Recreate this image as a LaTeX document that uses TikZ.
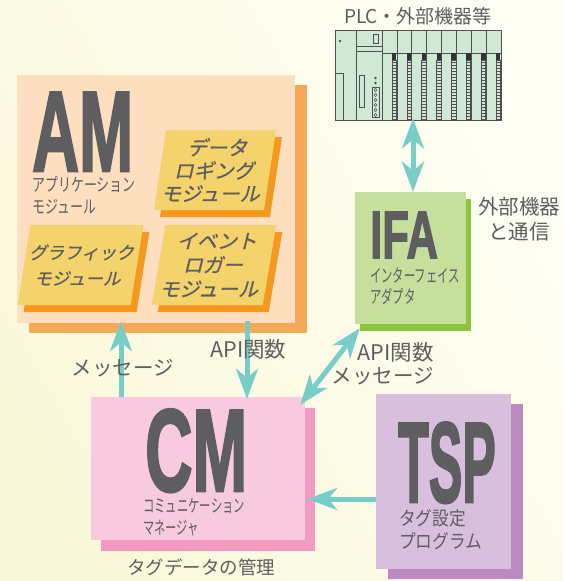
\documentclass[tikz,border=0pt]{standalone}
\usepackage{fontspec}
\usepackage{graphicx}
\usetikzlibrary{arrows.meta,shadows}
\setmainfont{Noto Sans CJK JP}
\newfontfamily\heavyfont[FakeBold=2.5]{Liberation Sans}
\newfontfamily\modulefont[FakeBold=0.8,FakeSlant=0.08]{Noto Sans CJK JP}

\definecolor{inkgray}{HTML}{5E5E60}
\definecolor{bgWarm}{HTML}{FAF8DB}
\definecolor{bgPale}{HTML}{FEFEF4}
\definecolor{amFill}{HTML}{FDDFC0}
\definecolor{amShadow}{HTML}{F6AA57}
\definecolor{modFill}{HTML}{F5D36C}
\definecolor{modShadow}{HTML}{F4981F}
\definecolor{ifaFill}{HTML}{C7DF9D}
\definecolor{ifaShadow}{HTML}{8CC63E}
\definecolor{cmFill}{HTML}{F8CADF}
\definecolor{cmShadow}{HTML}{F29AC2}
\definecolor{tspFill}{HTML}{D9BFDE}
\definecolor{tspShadow}{HTML}{BC8ABE}
\definecolor{linkTeal}{HTML}{79CDC8}
\definecolor{plcGreen}{HTML}{CFE9D5}
\definecolor{plcLine}{HTML}{505050}

% condensed heavy lettering for the block abbreviations
\newcommand\blocktag[3]{\scalebox{#1}[1]{\heavyfont\bfseries\fontsize{#2}{#2}\selectfont #3}}
% narrow caption lines under the abbreviations
\newcommand\narrowline[3]{\scalebox{#1}[1]{\fontsize{#2}{#2}\selectfont #3}}

\begin{document}
\begin{tikzpicture}[x=1pt,y=-1pt,
  txt/.style={inner sep=0pt, text=inkgray},
  panel/.style={inner sep=0pt, draw=none},
  arr/.style={draw=linkTeal, line width=5pt,
    -{Stealth[length=30pt,width=22pt,inset=9pt]}},
  darr/.style={draw=linkTeal, line width=5pt,
    {Stealth[length=30pt,width=22pt,inset=9pt]}-{Stealth[length=30pt,width=22pt,inset=9pt]}},
  modbox/.style={panel, transform shape, fill=modFill, text=inkgray, align=center,
    minimum height=80pt,
    drop shadow={shadow xshift=6pt, shadow yshift=-7pt, fill=modShadow, opacity=1}},
]
\useasboundingbox (0,0) rectangle (563,581);
\shade[left color=bgWarm, right color=bgPale, shading angle=120] (0,0) rectangle (563,581);

% ---- application module
\node[panel, fill=amFill, minimum width=278pt, minimum height=248pt,
  drop shadow={shadow xshift=12pt, shadow yshift=-10pt, fill=amShadow, opacity=1}]
  (am) at (156,199) {};
\node[txt, anchor=base west] (amTag) at (32,171) {\blocktag{0.57}{114}{AM}};
\node[txt, anchor=west] (amSub1) at (32,185) {\narrowline{0.72}{18}{アプリケーション}};
\node[txt, anchor=west] (amSub2) at (32,207) {\narrowline{0.72}{18}{モジュール}};

\begin{scope}[shift={(215,170)}, xslant=0.15]
  \node[modbox, minimum width=110pt, font={\modulefont\fontsize{20}{23}\selectfont}] (dlog) at (0,0)
    {データ\\ロギング\\モジュール};
\end{scope}
\begin{scope}[shift={(80.5,265)}, xslant=0.16]
  \node[modbox, minimum width=113pt, font={\modulefont\fontsize{17.5}{26}\selectfont}] (gmod) at (0,0)
    {グラフィック\\モジュール};
\end{scope}
\begin{scope}[shift={(214,265)}, xslant=0.17]
  \node[modbox, minimum width=111pt, font={\modulefont\fontsize{20}{24}\selectfont}] (elog) at (0,0)
    {イベント\\ロガー\\モジュール};
\end{scope}

% ---- interface adapter
\node[panel, fill=ifaFill, minimum width=111pt, minimum height=132pt,
  drop shadow={shadow xshift=5pt, shadow yshift=-7pt, fill=ifaShadow, opacity=1}]
  (ifa) at (410.5,258) {};
\node[txt, anchor=base west] (ifaTag) at (370,258) {\blocktag{0.65}{67}{IFA}};
\node[txt, anchor=west] (ifaSub1) at (370,276) {\narrowline{0.63}{18}{インターフェイス}};
\node[txt, anchor=west] (ifaSub2) at (370,296) {\narrowline{0.63}{18}{アダプタ}};
\node[txt, align=center, font=\fontsize{20.5}{25}\selectfont] (extNote) at (519,219)
  {外部機器\\と通信};

% ---- communication manager
\node[panel, fill=cmFill, minimum width=214pt, minimum height=143pt,
  drop shadow={shadow xshift=10pt, shadow yshift=-11pt, fill=cmShadow, opacity=1}]
  (cm) at (198,468.5) {};
\node[txt, anchor=base west] (cmTag) at (145,491) {\blocktag{0.56}{117}{CM}};
\node[txt, anchor=west] (cmSub1) at (143,506) {\narrowline{0.63}{18}{コミュニケーション}};
\node[txt, anchor=west] (cmSub2) at (143,528) {\narrowline{0.63}{18}{マネージャ}};
\node[txt, font=\fontsize{18.5}{20}\selectfont] (cmNote) at (201,567) {タグデータの管理};

% ---- tag setting program
\node[panel, fill=tspFill, minimum width=135pt, minimum height=175pt,
  drop shadow={shadow xshift=12pt, shadow yshift=-10pt, fill=tspShadow, opacity=1}]
  (tsp) at (443.5,481.5) {};
\node[txt, anchor=base west] (tspTag) at (398,502) {\blocktag{0.44}{114}{TSP}};
\node[txt, anchor=west] (tspSub1) at (399,518) {\narrowline{0.88}{19}{タグ設定}};
\node[txt, anchor=west] (tspSub2) at (399,541) {\narrowline{0.88}{19}{プログラム}};

% ---- PLC rack
\node[txt, font=\fontsize{19}{20}\selectfont] (plcTitle) at (418,16) {PLC・外部機器等};
\node[panel, fill=plcGreen, draw=plcLine, line width=0.9pt,
  minimum width=166pt, minimum height=90pt] (plc) at (418,75) {};
\begin{scope}[draw=plcLine, line width=0.6pt]
  \draw (356,30) -- (356,120);
  \draw (382,30) -- (382,120);
  \foreach \i in {1,...,7} \draw ({382+\i*14.875},30) -- ({382+\i*14.875},120);
  \draw (382,53) -- (501,53);
  \foreach \i in {1,...,8} {
    \pgfmathsetmacro\rx{382+\i*14.875}
    \fill[black!80] (\rx-5,53) rectangle (\rx-0.6,60);
    \draw[line width=0.5pt] (\rx-5,60) rectangle (\rx-0.6,119);
    \foreach \yy in {62,65,...,117} \draw[line width=0.5pt] (\rx-5,\yy) -- (\rx-0.6,\yy);
  }
  \fill[plcLine] (340,41) circle (1.4);
  \draw (335,73) -- (343,73) -- (343,120);
  \draw (356,46) -- (382,46);
  \draw (356,51) -- (382,51);
  \draw (373,34) rectangle (378,43);
  \draw (359,75) rectangle (364,107);
  \fill[plcLine] (375.5,78) circle (1.4);
  \fill[plcLine] (375.5,83) circle (1.4);
  \draw (372,87) rectangle (379,117);
  \foreach \yy in {90,95,...,115} \draw[line width=0.5pt] (375.5,\yy) circle (1.6);
\end{scope}

% ---- connectors
\coordinate (msgX) at (121,0);
\coordinate (apiX) at (247,0);
\coordinate (plcX) at (413,0);
\coordinate (tspY) at (0,499);
\draw[arr] (cm.north -| msgX) -- ([yshift=2pt]am.south -| msgX);
\draw[arr] ([yshift=2pt]am.south -| apiX) -- ([yshift=-2pt]cm.north -| apiX);
\draw[arr] (tsp.west |- tspY) -- ([xshift=2pt]cm.east |- tspY);
\draw[darr] ([yshift=2pt]plc.south -| plcX) -- (ifa.north -| plcX);
\draw[darr] ([shift={(5pt,-4pt)}]ifa.south west) -- ([shift={(-5pt,-8pt)}]cm.north east);

% ---- connector labels
\node[txt, font=\fontsize{20.5}{22}\selectfont] (msgLabel) at (123,368) {メッセージ};
\node[txt, font=\fontsize{21.5}{23}\selectfont] (apiLabel) at (248.5,349) {API関数};
\node[txt, anchor=east, font=\fontsize{21.5}{23}\selectfont] (ifaApiLabel) at (434,352) {API関数};
\node[txt, anchor=east, font=\fontsize{20.5}{22}\selectfont] (ifaMsgLabel) at (434,376) {メッセージ};
\end{tikzpicture}
\end{document}
